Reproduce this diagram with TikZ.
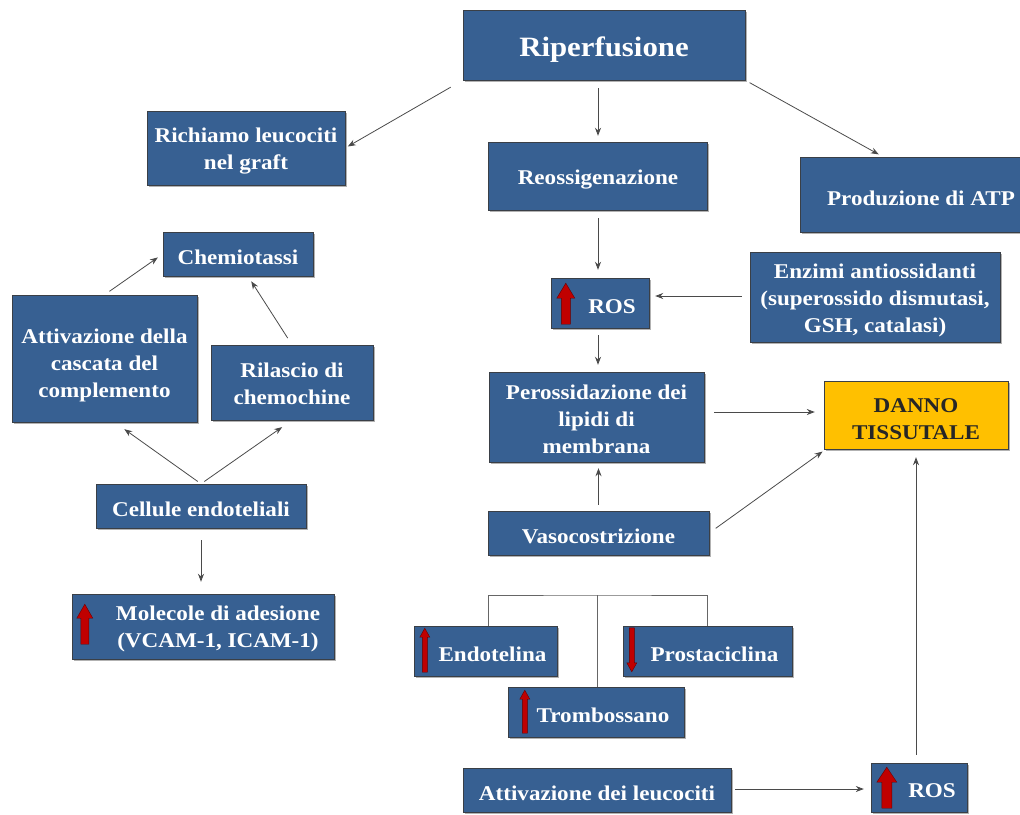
\documentclass[tikz,border=0pt]{standalone}
\usepackage{fontspec}
\setmainfont{Liberation Serif}[FakeStretch=1.1]
\usepackage{xcolor}
\usetikzlibrary{arrows.meta,shadows}

\definecolor{boxblue}{HTML}{376092}
\definecolor{boxline}{HTML}{3A3F46}
\definecolor{dannoyel}{HTML}{FFC000}
\definecolor{arrgray}{HTML}{4A4A4A}
\definecolor{redarr}{HTML}{C00000}

% strut that pushes the first line of a box down
\newcommand\lowr[1]{\rule{0pt}{#1}}

\tikzset{
    box/.style={draw=boxline, fill=boxblue, text=white, align=center, inner sep=2pt,
        font=\bfseries\fontsize{21}{27}\selectfont,
        execute at begin node={\rule{0pt}{1em}},
        drop shadow={shadow xshift=1.5pt, shadow yshift=-1.5pt, fill=black, opacity=.3}},
    arr/.style={draw=arrgray, line width=0.8pt, -{Stealth[length=8pt,width=6pt]}},
    brk/.style={draw=gray!80!black, line width=1pt},
    % width / height / head length
    pics/uparr/.style args={#1/#2/#3}{code={
        \draw[fill=redarr, draw=red!40!black, line width=0.4pt]
            ({-#1/4},0) -- ({-#1/4},{-#2+#3}) -- ({-#1/2},{-#2+#3}) -- (0,{-#2})
            -- ({#1/2},{-#2+#3}) -- ({#1/4},{-#2+#3}) -- ({#1/4},0) -- cycle;
    }},
}

\begin{document}
\begin{tikzpicture}[x=1pt, y=-1pt]
    \useasboundingbox (0,0) rectangle (1020,814);
    \clip (0,0) rectangle (1020,814);
    % top row
    \node[box, minimum width=282, minimum height=70, font=\bfseries\fontsize{28}{32}\selectfont] (ripe) at (604,45) {Riperfusione};
    \node[box, minimum width=198, minimum height=74] (richiamo) at (246,148) {\lowr{21pt}Richiamo leucociti\\nel graft};
    \node[box, minimum width=219, minimum height=68] (reoss) at (598,176) {Reossigenazione};
    \node[box, minimum width=242, minimum height=75] (atp) at (921,195) {Produzione di ATP};
    % left side
    \node[box, minimum width=150, minimum height=44] (chemio) at (238,254) {Chemiotassi};
    \node[box, minimum width=185, minimum height=127] (attiv) at (104.5,358.5) {\lowr{28pt}Attivazione della\\cascata del\\complemento};
    \node[box, minimum width=162, minimum height=75] (rilascio) at (292,382.5) {\lowr{17pt}Rilascio di\\chemochine};
    \node[box, minimum width=210, minimum height=44] (cellule) at (201,506) {Cellule endoteliali};
    \node[box, minimum width=262, minimum height=65] (molecole) at (203,626.5) {\lowr{19pt}\hspace*{30pt}Molecole di adesione\\\hspace*{30pt}(VCAM-1, ICAM-1)};
    % middle and right
    \node[box, minimum width=98, minimum height=50] (ros1) at (600,303) {\hspace*{24pt}ROS};
    \node[box, minimum width=250, minimum height=90] (enzimi) at (875,297) {\lowr{22pt}Enzimi antiossidanti\\(superossido dismutasi,\\GSH, catalasi)};
    \node[box, minimum width=215, minimum height=90] (peross) at (596.5,417) {\lowr{19pt}Perossidazione dei\\lipidi di\\membrana};
    \node[box, fill=dannoyel, text=black!85, minimum width=184, minimum height=68] (danno) at (916,415) {\lowr{22pt}DANNO\\TISSUTALE};
    \node[box, minimum width=221, minimum height=44] (vaso) at (598.5,533) {Vasocostrizione};
    \node[box, minimum width=143, minimum height=50] (endo) at (485.5,651) {\hspace*{14pt}Endotelina};
    \node[box, minimum width=169, minimum height=50] (prosta) at (707.5,651) {\hspace*{14pt}Prostaciclina};
    \node[box, minimum width=176, minimum height=50] (trombo) at (596,712) {\hspace*{14pt}Trombossano};
    \node[box, minimum width=268, minimum height=44] (attleu) at (597,790) {Attivazione dei leucociti};
    \node[box, minimum width=96, minimum height=49] (ros2) at (919,787.5) {\hspace*{26pt}ROS};
    % red up / down arrows
    \pic at ([xshift=15,yshift=4]ros1.south west) {uparr={18/41/15}};
    \pic at ([xshift=13,yshift=15]molecole.south west) {uparr={16/40/14}};
    \pic at ([xshift=16,yshift=4]ros2.south west) {uparr={20/41/15}};
    \pic at ([xshift=11,yshift=4]endo.south west) {uparr={10/44/9}};
    \pic at ([xshift=17,yshift=4]trombo.south west) {uparr={10/43/9}};
    \pic[yscale=-1] at ([xshift=9,yshift=-2]prosta.north west) {uparr={10/44/9}};
    % connectors
    \draw[arr, shorten <=14pt, shorten >=3pt] (ripe.south west) -- (richiamo.east);
    \draw[arr, shorten <=8pt, shorten >=6pt] ([xshift=-6]ripe.south) -- ([xshift=-6]ripe.south |- reoss.north);
    \draw[arr, shorten <=5pt, shorten >=6pt] (ripe.south east) -- ([xshift=-37]atp.north);
    \draw[arr, shorten <=8pt, shorten >=8pt] (reoss.south) -- (reoss.south |- ros1.north);
    \draw[arr, shorten <=8pt, shorten >=6pt] ([yshift=1]enzimi.west) -- ([yshift=1]enzimi.west -| ros1.east);
    \draw[arr, shorten <=7pt, shorten >=7pt] ([xshift=-2]ros1.south) -- ([xshift=-2]ros1.south |- peross.north);
    \draw[arr, shorten <=10pt, shorten >=9pt] ([yshift=5]peross.east) -- ([yshift=5]peross.east -| danno.west);
    \draw[arr, shorten <=6pt, shorten >=6pt] (vaso.north) -- (vaso.north |- peross.south);
    \draw[arr, shorten <=8pt, shorten >=4pt] (vaso.east) -- ([xshift=2]danno.south west);
    \draw[arr, shorten <=8pt, shorten >=8pt] (danno.south |- ros2.north) -- (danno.south);
    \draw[arr, shorten <=4pt, shorten >=7pt] ([yshift=1]attleu.east) -- ([yshift=1]attleu.east -| ros2.west);
    \draw[arr, shorten <=6pt, shorten >=6pt] (attiv.north) -- (chemio.west);
    \draw[arr, shorten <=8pt, shorten >=6pt] (rilascio.north) -- ([xshift=10]chemio.south);
    \draw[arr, shorten <=4pt, shorten >=12pt] (cellule.north) -- ([xshift=10]attiv.south);
    \draw[arr, shorten <=4pt, shorten >=12pt] (cellule.north) -- (rilascio.south);
    \draw[arr, shorten <=12pt, shorten >=12pt] (cellule.south) -- (cellule.south |- molecole.north);
    % bracket over the three mediators
    \coordinate (split) at (597,595);
    \draw[brk] ([xshift=3]endo.north) |- (split) -| (prosta.north);
    \draw[brk] (split) -- (split |- trombo.north);
\end{tikzpicture}
\end{document}
